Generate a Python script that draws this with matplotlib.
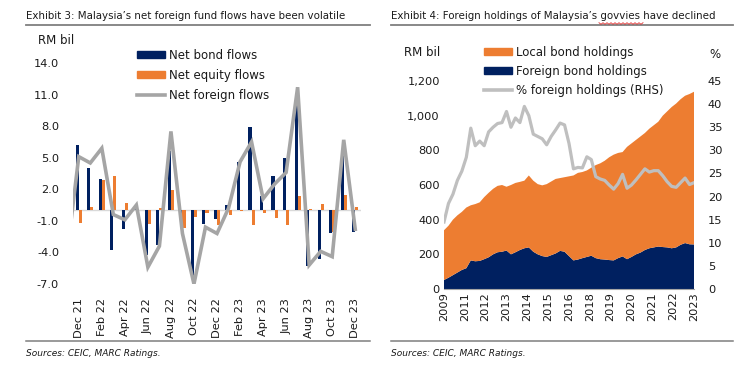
import numpy as np
import matplotlib
matplotlib.use("Agg")
import matplotlib.pyplot as plt
from matplotlib.patches import Patch
from matplotlib.lines import Line2D

# ---------------- Exhibit 3 data (RM bil, monthly) ----------------
months = ["Dec 21", "Jan 22", "Feb 22", "Mar 22", "Apr 22", "May 22", "Jun 22",
          "Jul 22", "Aug 22", "Sep 22", "Oct 22", "Nov 22", "Dec 22", "Jan 23",
          "Feb 23", "Mar 23", "Apr 23", "May 23", "Jun 23", "Jul 23", "Aug 23",
          "Sep 23", "Oct 23", "Nov 23", "Dec 23"]
net_bond = [6.2, 4.0, 3.0, -3.8, -1.8, 0.3, -4.2, -3.3, 5.6, -0.5, -6.5, -1.3,
            -0.8, 0.5, 4.6, 7.9, 1.4, 3.3, 5.0, 10.3, -5.3, -4.6, -2.2, 5.3, -2.1]
net_equity = [-1.2, 0.3, 2.9, 3.3, 0.7, 0.15, -1.3, 0.2, 1.9, -1.7, -0.6, -0.3,
              -1.4, -0.4, -0.1, -1.4, -0.3, -0.7, -1.4, 1.4, 0.1, 0.6, -2.1, 1.5, 0.3]
net_foreign = [5.1, 4.5, 5.9, -0.4, -0.9, 0.5, -5.4, -3.4, 7.5, -2.2, -7.0, -1.6,
               -2.2, 0.2, 4.6, 6.5, 1.1, 2.5, 3.6, 11.7, -5.2, -3.9, -4.4, 6.7, -1.8]
net_foreign_nov21 = -4.0   # previous month, clipped at the left edge
flow_ticks = [-7, -4, -1, 2, 5, 8, 11, 14]

# ---------------- Exhibit 4 data (quarterly readings, Dec 2009 - Dec 2023) ----------------
hold_month_idx = list(range(0, 169, 3))   # months since Dec 2009
foreign_hold = [52, 65, 80, 95, 110, 120, 165, 160, 162, 172, 183, 200, 212, 215,
                222, 200, 212, 225, 235, 240, 215, 200, 190, 185, 195, 205, 220, 215,
                190, 165, 170, 178, 185, 192, 178, 172, 170, 167, 165, 178, 188, 172,
                185, 200, 210, 225, 235, 240, 245, 242, 240, 235, 240, 255, 265, 258, 257]
local_hold = [287, 300, 320, 330, 335, 350, 318, 330, 338, 358, 372, 378, 383, 385,
              368, 400, 400, 393, 390, 415, 410, 405, 408, 420, 425, 430, 420, 430,
              460, 490, 500, 497, 499, 508, 537, 553, 570, 593, 610, 607, 602, 648,
              655, 660, 670, 675, 690, 705, 720, 758, 785, 815, 830, 840, 850, 867, 881]
pct_foreign = [14.5, 18.5, 20.5, 23.5, 25.5, 28.5, 34.8, 31.0, 32.0, 31.0, 34.0, 35.0,
               35.8, 36.0, 38.4, 35.0, 37.0, 36.0, 39.5, 37.5, 33.5, 33.0, 32.5, 31.2,
               33.0, 34.4, 35.9, 35.5, 31.5, 26.0, 26.3, 26.2, 28.6, 28.0, 24.3, 23.8,
               23.5, 22.5, 21.6, 22.8, 24.8, 21.8, 22.5, 23.6, 24.8, 26.0, 25.3, 25.6,
               25.6, 24.5, 23.2, 22.2, 22.0, 23.0, 24.0, 22.6, 23.0]
year_labels = ["2009", "2011", "2012", "2013", "2014", "2015", "2016", "2018",
               "2019", "2020", "2021", "2022", "2023"]
year_tick_step = 14
rm_ticks = [0, 200, 400, 600, 800, 1000, 1200]
pct_ticks = [0, 5, 10, 15, 20, 25, 30, 35, 40, 45]

NAVY = "#002060"
ORANGE = "#ED7D31"
GREY = "#A5A5A5"
LGREY = "#BFBFBF"
TXT = "#1a1a1a"

plt.rcParams["font.family"] = ["DejaVu Sans"]
W, H = 752, 365
fig = plt.figure(figsize=(W / 100, H / 100), dpi=100)


def fx(px):
    return px / W


def fy(py):
    return 1 - py / H


TICK_FS = 8.2

# ---------------- Left chart ----------------
ax1 = fig.add_axes([fx(73), fy(284), fx(361) - fx(73), fy(63) - fy(284)])
x = np.arange(len(months))
bw = 0.27
ax1.axhline(0, color="#D9D9D9", lw=1.0, zorder=1)
ax1.bar(x - bw / 2, net_bond, bw, color=NAVY, zorder=2)
ax1.bar(x + bw / 2, net_equity, bw, color=ORANGE, zorder=2)
ax1.plot(np.r_[-1, x], [net_foreign_nov21] + net_foreign, color=GREY, lw=2.6,
         zorder=3, solid_joinstyle="miter")
ax1.set_xlim(-0.5, len(months) - 0.5)
ax1.set_ylim(-7, 14)
ax1.set_yticks(flow_ticks)
ax1.set_yticklabels([f"{v:.1f}" for v in flow_ticks], fontsize=TICK_FS, color=TXT)
ax1.set_xticks(x[::2])
ax1.set_xticklabels(months[::2], rotation=90, fontsize=TICK_FS, color=TXT)
ax1.tick_params(axis="both", length=0)
ax1.tick_params(axis="y", pad=10)
ax1.tick_params(axis="x", pad=10)
for s in ax1.spines.values():
    s.set_visible(False)
ax1.patch.set_alpha(0)

leg1 = ax1.legend(
    handles=[Patch(color=NAVY), Patch(color=ORANGE), Line2D([], [], color=GREY, lw=2.6)],
    labels=["Net bond flows", "Net equity flows", "Net foreign flows"],
    loc="upper left", bbox_to_anchor=(fx(137), fy(49)), bbox_transform=fig.transFigure,
    frameon=False, fontsize=8.5, handlelength=2.4, handleheight=0.55,
    handletextpad=0.3, labelspacing=0.6, borderpad=0, borderaxespad=0)
for t in leg1.get_texts():
    t.set_color(TXT)

fig.text(fx(38), fy(40), "RM bil", fontsize=8.5, va="center", ha="left", color=TXT)

# ---------------- Right chart ----------------
ax2 = fig.add_axes([fx(444), fy(289), fx(694) - fx(444), fy(81) - fy(289)])
ax2.stackplot(hold_month_idx, foreign_hold, local_hold, colors=[NAVY, ORANGE], lw=0)
ax2.set_xlim(0, 168)
ax2.set_ylim(0, 1200)
ax2.set_yticks(rm_ticks)
ax2.set_yticklabels([f"{v:,}" for v in rm_ticks], fontsize=TICK_FS, color=TXT)
ax2.set_xticks(np.arange(0, 169, year_tick_step))
ax2.set_xticklabels(year_labels, rotation=90, fontsize=TICK_FS, color=TXT)
ax2.tick_params(axis="both", length=0)
ax2.tick_params(axis="y", pad=3)
ax2.tick_params(axis="x", pad=2)
for k, s in ax2.spines.items():
    s.set_visible(k == "bottom")
ax2.spines["bottom"].set_color("#A6A6A6")
ax2.spines["bottom"].set_linewidth(0.8)

ax3 = ax2.twinx()
ax3.plot(hold_month_idx, pct_foreign, color=LGREY, lw=2.3)
ax3.set_ylim(0, 45)
ax3.set_yticks(pct_ticks)
ax3.set_yticklabels([str(v) for v in pct_ticks], fontsize=TICK_FS, color=TXT)
ax3.tick_params(axis="y", length=0, pad=10)
for s in ax3.spines.values():
    s.set_visible(False)

leg2 = ax3.legend(
    handles=[Patch(color=ORANGE), Patch(color=NAVY), Line2D([], [], color=LGREY, lw=2.6)],
    labels=["Local bond holdings", "Foreign bond holdings", "% foreign holdings (RHS)"],
    loc="upper left", bbox_to_anchor=(fx(484), fy(46)), bbox_transform=fig.transFigure,
    frameon=False, fontsize=8.5, handlelength=2.4, handleheight=0.55,
    handletextpad=0.3, labelspacing=0.5, borderpad=0, borderaxespad=0)
for t in leg2.get_texts():
    t.set_color(TXT)

fig.text(fx(404), fy(53), "RM bil", fontsize=8.5, va="center", ha="left", color=TXT)
fig.text(fx(709), fy(55), "%", fontsize=8.5, va="center", ha="left", color=TXT)

# ---------------- Titles, rules, sources ----------------
fig.text(fx(26), fy(16), "Exhibit 3: Malaysia\u2019s net foreign fund flows have been volatile",
         fontsize=7.4, va="center", ha="left", color=TXT)
fig.text(fx(391), fy(16), "Exhibit 4: Foreign holdings of Malaysia\u2019s govvies have declined",
         fontsize=7.4, va="center", ha="left", color=TXT)
for x0, x1 in [(26, 370), (391, 733)]:
    fig.add_artist(Line2D([fx(x0), fx(x1)], [fy(25), fy(25)], color="#7F7F7F", lw=1.3))
    fig.add_artist(Line2D([fx(x0), fx(x1)], [fy(341), fy(341)], color="#7F7F7F", lw=1.1))
    fig.text(fx(x0), fy(354), "Sources: CEIC, MARC Ratings.", fontsize=6.5,
             style="italic", va="center", ha="left", color=TXT)

# spell-check wavy underline under "govvies"
wx = np.linspace(599, 643, 23)
wy = 23.5 + np.where(np.arange(23) % 2 == 0, -0.8, 0.8)
fig.add_artist(Line2D(fx(wx), fy(wy), color="#E03030", lw=0.6))

fig.savefig("out.png", dpi=100)
